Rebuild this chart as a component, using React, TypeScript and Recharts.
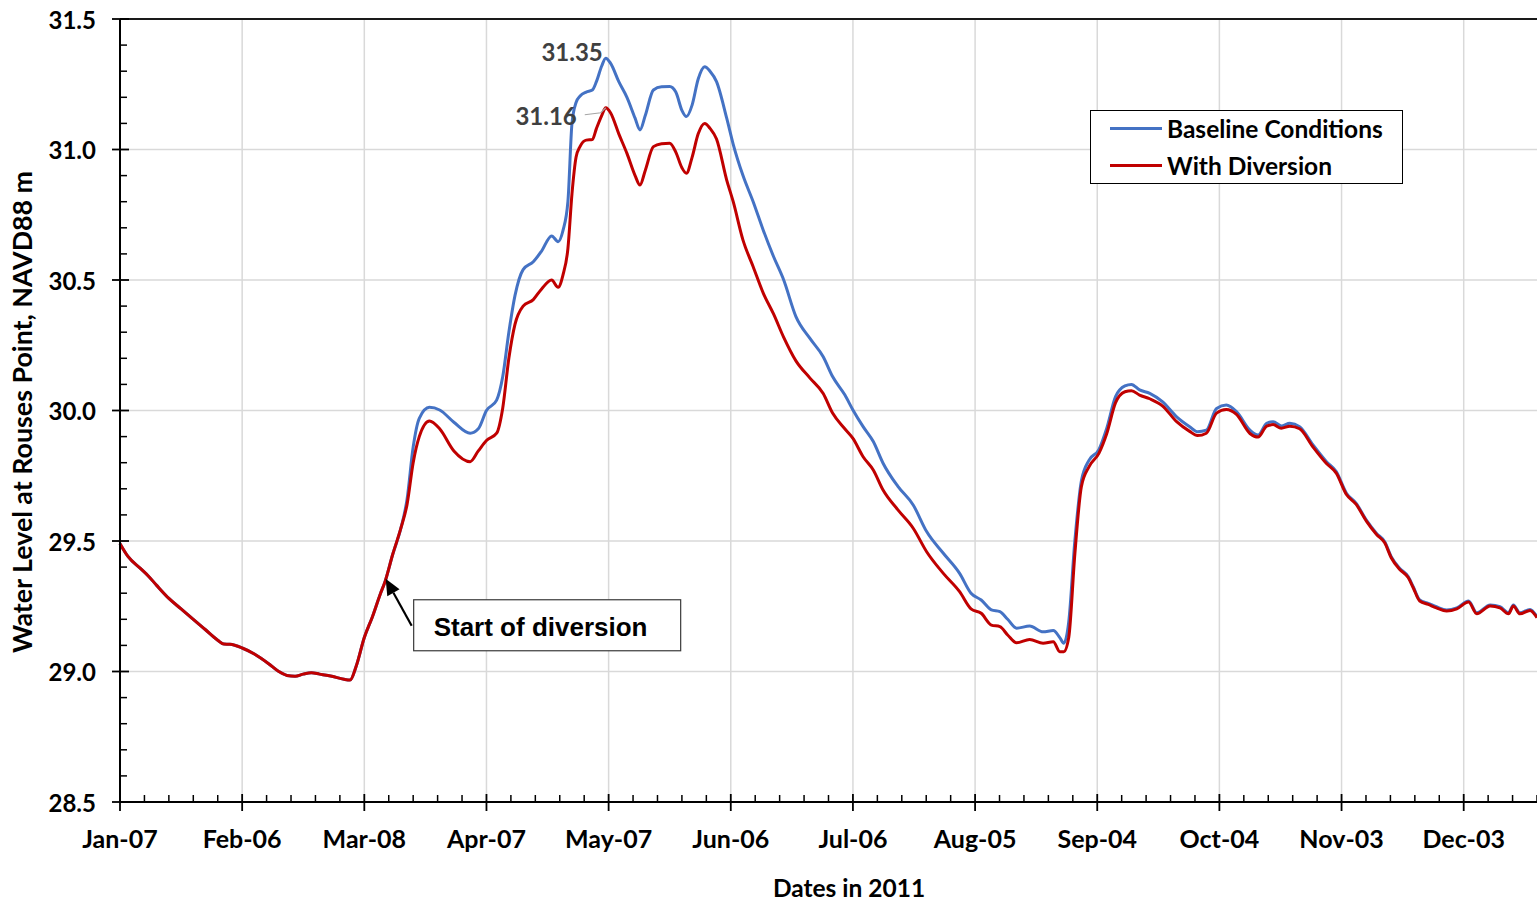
import React from "react";
import {
  LineChart,
  Line,
  XAxis,
  YAxis,
  CartesianGrid,
  ReferenceLine,
  ReferenceDot,
  Legend,
} from "recharts";

// days after Jan-07, 2011
const DAYS = [
  0, 2, 5, 7, 9, 12, 15, 18, 21, 24,
  25.5, 27, 30, 33, 36.5, 39, 41, 43, 45, 47,
  49, 52, 55, 56.5, 58, 60, 62, 64, 65, 67,
  69, 70.5, 72, 73.5, 76, 78.5, 82, 86, 88, 90,
  92.5, 94, 95.5, 97, 99, 101.5, 103.5, 106, 107.6, 108.8,
  110, 111, 112, 113, 114.5, 116, 117, 118.3, 119.3, 120.5,
  122.5, 124.5, 126.5, 127.7, 129, 131, 133, 135, 136.5, 138,
  139.1, 140.5, 142, 143.6, 144.9, 146.5, 149, 150.6, 153, 155.5,
  158, 160.5, 163, 166, 169.4, 172.7, 175, 178, 180, 182.5,
  185, 187.4, 191, 194.8, 198.1, 202.2, 206.2, 209, 211.5, 214,
  216.1, 218, 220.2, 223.4, 226.7, 229.2, 230.8, 231.8, 233, 234.5,
  236.1, 238, 240.4, 242.3, 244.5, 246.8, 248.4, 250.4, 252.9, 256,
  259.5, 262.7, 264.6, 266.8, 269.3, 271.7, 274.2, 277.5, 279.5, 281.6,
  283.2, 285.2, 287.3, 289.7, 293, 296.3, 298.7, 301.2, 303.6, 306.1,
  308.6, 310.6, 312.2, 314.3, 316.4, 317.6, 319.2, 321.3, 323.3, 325.8,
  328.3, 331.2, 333.2, 336.5, 338.9, 341, 342.2, 343.8, 346.3, 348,
];

const BASELINE = [
  29.49, 29.44, 29.395, 29.365, 29.33, 29.28, 29.24, 29.2, 29.16, 29.12,
  29.105, 29.104, 29.09, 29.067, 29.03, 29.0, 28.985, 28.982, 28.99, 28.995,
  28.99, 28.982, 28.97, 28.967, 29.02, 29.13, 29.21, 29.3, 29.34, 29.45,
  29.55, 29.66, 29.86, 29.97, 30.012, 30.002, 29.955, 29.913, 29.93, 30.0,
  30.04, 30.13, 30.3, 30.44, 30.54, 30.57, 30.61, 30.669, 30.647, 30.69,
  30.8, 31.1, 31.18, 31.205, 31.22, 31.228, 31.26, 31.32, 31.35, 31.33,
  31.26, 31.2, 31.12, 31.075, 31.13, 31.228, 31.24, 31.241, 31.22, 31.15,
  31.126, 31.17, 31.27, 31.317, 31.3, 31.26, 31.12, 31.02, 30.9, 30.8,
  30.69, 30.59, 30.5, 30.36, 30.277, 30.206, 30.13, 30.06, 30.002, 29.938,
  29.881, 29.798, 29.71, 29.638, 29.536, 29.453, 29.376, 29.3, 29.274, 29.236,
  29.229, 29.2, 29.166, 29.174, 29.152, 29.157, 29.13, 29.108, 29.19, 29.5,
  29.73, 29.81, 29.85, 29.93, 30.053, 30.094, 30.1, 30.079, 30.066, 30.034,
  29.976, 29.938, 29.919, 29.925, 30.008, 30.021, 29.996, 29.925, 29.906, 29.951,
  29.957, 29.941, 29.951, 29.938, 29.868, 29.804, 29.766, 29.683, 29.644, 29.58,
  29.529, 29.497, 29.44, 29.395, 29.363, 29.325, 29.274, 29.261, 29.248, 29.236,
  29.244, 29.27, 29.225, 29.255, 29.248, 29.225, 29.255, 29.225, 29.238, 29.21,
];

const DIVERSION = [
  29.49, 29.44, 29.395, 29.365, 29.33, 29.28, 29.24, 29.2, 29.16, 29.12,
  29.105, 29.104, 29.09, 29.067, 29.03, 29.0, 28.985, 28.982, 28.99, 28.995,
  28.99, 28.982, 28.97, 28.967, 29.02, 29.13, 29.21, 29.3, 29.34, 29.45,
  29.55, 29.64, 29.8, 29.9, 29.96, 29.93, 29.845, 29.804, 29.845, 29.885,
  29.913, 30.01, 30.2, 30.33, 30.4, 30.425, 30.465, 30.5, 30.472, 30.52,
  30.62, 30.83, 30.97, 31.012, 31.036, 31.038, 31.08, 31.13, 31.16, 31.14,
  31.06, 30.985, 30.9, 30.864, 30.92, 31.011, 31.022, 31.024, 30.99, 30.93,
  30.909, 30.97, 31.06, 31.1, 31.081, 31.04, 30.883, 30.8, 30.653, 30.551,
  30.449, 30.37, 30.28, 30.19, 30.125, 30.065, 29.99, 29.93, 29.893, 29.823,
  29.772, 29.695, 29.62, 29.549, 29.459, 29.376, 29.306, 29.24, 29.223, 29.178,
  29.172, 29.14, 29.11, 29.123, 29.108, 29.114, 29.076, 29.076, 29.13, 29.45,
  29.708, 29.785, 29.836, 29.91, 30.03, 30.072, 30.076, 30.059, 30.045, 30.018,
  29.957, 29.92, 29.904, 29.913, 29.99, 30.004, 29.985, 29.912, 29.898, 29.94,
  29.946, 29.932, 29.94, 29.93, 29.86, 29.797, 29.76, 29.678, 29.64, 29.576,
  29.525, 29.493, 29.436, 29.391, 29.359, 29.321, 29.27, 29.257, 29.244, 29.232,
  29.24, 29.266, 29.221, 29.251, 29.244, 29.221, 29.251, 29.221, 29.234, 29.206,
];

const MAJOR_DAYS = [0, 30, 60, 90, 120, 150, 180, 210, 240, 270, 300, 330];
const DATE_LABELS = [
  "Jan-07", "Feb-06", "Mar-08", "Apr-07", "May-07", "Jun-06",
  "Jul-06", "Aug-05", "Sep-04", "Oct-04", "Nov-03", "Dec-03",
];
const MAJOR_LEVELS = [28.5, 29.0, 29.5, 30.0, 30.5, 31.0, 31.5];

// minor ticks: every 6 days on x, every 0.1 m on y
const X_TICKS = Array.from({ length: 59 }, (_, i) => i * 6);
const Y_TICKS = Array.from({ length: 31 }, (_, i) => Math.round((28.5 + i * 0.1) * 10) / 10);

const START_DAY = 65;

const FONT = "Lato, 'Open Sans', sans-serif";

const data = DAYS.map((day, i) => ({
  day,
  baseline: BASELINE[i],
  diversion: DIVERSION[i],
}));

const peakIdx = BASELINE.indexOf(Math.max(...BASELINE));
const peakDivIdx = DIVERSION.indexOf(Math.max(...DIVERSION));
const startIdx = DAYS.indexOf(START_DAY);

function DateTick(props: any) {
  const { x, y, payload } = props;
  const idx = MAJOR_DAYS.indexOf(payload.value);
  if (idx < 0) {
    return <line x1={x} x2={x} y1={y} y2={y - 7} stroke="#000" strokeWidth={1.5} />;
  }
  return (
    <g>
      <line x1={x} x2={x} y1={y - 8} y2={y + 9} stroke="#000" strokeWidth={1.8} />
      <text
        x={x}
        y={y + 36}
        textAnchor="middle"
        dominantBaseline="central"
        fontFamily={FONT}
        fontWeight={700}
        fontSize={25}
        fill="#000"
      >
        {DATE_LABELS[idx]}
      </text>
    </g>
  );
}

function LevelTick(props: any) {
  const { x, y, payload } = props;
  const v: number = payload.value;
  const major = Math.round(v * 10) % 5 === 0;
  if (!major) {
    return <line x1={x} x2={x + 7} y1={y} y2={y} stroke="#000" strokeWidth={1.5} />;
  }
  return (
    <g>
      <line x1={x - 8} x2={x + 9} y1={y} y2={y} stroke="#000" strokeWidth={1.8} />
      <text
        x={x - 24}
        y={y}
        textAnchor="end"
        dominantBaseline="central"
        fontFamily={FONT}
        fontWeight={700}
        fontSize={24}
        fill="#000"
      >
        {v.toFixed(1)}
      </text>
    </g>
  );
}

function YTitle() {
  return (
    <text
      x={22}
      y={412}
      transform="rotate(-90 22 412)"
      textAnchor="middle"
      dominantBaseline="central"
      fontFamily={FONT}
      fontWeight={700}
      fontSize={26.8}
      fill="#000"
    >
      Water Level at Rouses Point, NAVD88 m
    </text>
  );
}

function XTitle() {
  return (
    <text
      x={849}
      y={887}
      textAnchor="middle"
      dominantBaseline="central"
      fontFamily={FONT}
      fontWeight={700}
      fontSize={24.5}
      fill="#000"
    >
      Dates in 2011
    </text>
  );
}

function PeakLabel(props: any) {
  const { cx, cy } = props;
  return (
    <text
      x={cx - 3}
      y={cy - 7}
      textAnchor="end"
      dominantBaseline="central"
      fontFamily={FONT}
      fontWeight={700}
      fontSize={24}
      fill="#404040"
    >
      {BASELINE[peakIdx].toFixed(2)}
    </text>
  );
}

function PeakDivLabel(props: any) {
  const { cx, cy } = props;
  return (
    <g>
      <polyline
        points={`${cx - 21},${cy + 7} ${cx - 5},${cy + 5} ${cx},${cy}`}
        fill="none"
        stroke="#a6a6a6"
        strokeWidth={1.2}
      />
      <text
        x={cx - 29}
        y={cy + 8}
        textAnchor="end"
        dominantBaseline="central"
        fontFamily={FONT}
        fontWeight={700}
        fontSize={24}
        fill="#404040"
      >
        {DIVERSION[peakDivIdx].toFixed(2)}
      </text>
    </g>
  );
}

function StartCallout(props: any) {
  const { cx, cy } = props;
  const tipX = cx + 1;
  const tipY = cy - 4;
  const tailX = cx + 27;
  const tailY = cy + 43;
  const len = Math.hypot(tipX - tailX, tipY - tailY);
  const ux = (tipX - tailX) / len;
  const uy = (tipY - tailY) / len;
  const bx = tipX - ux * 16;
  const by = tipY - uy * 16;
  const px = -uy * 7;
  const py = ux * 7;
  return (
    <g>
      <line x1={tailX} y1={tailY} x2={bx} y2={by} stroke="#000" strokeWidth={2.2} />
      <polygon
        points={`${tipX},${tipY} ${bx + px},${by + py} ${bx - px},${by - py}`}
        fill="#000"
      />
      <rect x={cx + 29} y={cy + 17} width={267} height={51} fill="#fff" stroke="#3a3a3a" strokeWidth={1.2} />
      <text
        x={cx + 49}
        y={cy + 44}
        dominantBaseline="central"
        fontFamily="'Liberation Sans', Arial, sans-serif"
        fontWeight={700}
        fontSize={26}
        fill="#000"
      >
        Start of diversion
      </text>
    </g>
  );
}

function LegendBox(props: any) {
  const items = props.payload || [];
  return (
    <div
      style={{
        position: "relative",
        width: 313,
        height: 74,
        boxSizing: "border-box",
        border: "1.5px solid #000",
        background: "#fff",
        fontFamily: FONT,
        fontWeight: 700,
        fontSize: 24.5,
        color: "#000",
      }}
    >
      {items.map((item: any, i: number) => (
        <div
          key={item.value}
          style={{
            position: "absolute",
            left: 0,
            top: i === 0 ? 2 : 39,
            height: 30,
            display: "flex",
            alignItems: "center",
            whiteSpace: "nowrap",
          }}
        >
          <span
            style={{
              display: "inline-block",
              marginLeft: 19,
              width: 52,
              height: 3,
              background: item.color,
            }}
          />
          <span style={{ marginLeft: 5 }}>{item.value}</span>
        </div>
      ))}
    </div>
  );
}

export default function App() {
  return (
    <div style={{ position: "absolute", left: 0, top: 0, width: 1537, height: 901, background: "#fff" }}>
      <LineChart
        width={1537}
        height={901}
        data={data}
        margin={{ top: 19, right: 0, bottom: 0, left: 0 }}
      >
        <CartesianGrid
          stroke="#d9d9d9"
          strokeWidth={1.5}
          horizontalValues={MAJOR_LEVELS}
          verticalValues={MAJOR_DAYS}
        />
        <XAxis
          dataKey="day"
          type="number"
          domain={[0, 348]}
          ticks={X_TICKS}
          interval={0}
          height={99}
          tickSize={0}
          tickMargin={0}
          tickLine={false}
          axisLine={{ stroke: "#000", strokeWidth: 2 }}
          tick={<DateTick />}
          label={<XTitle />}
        />
        <YAxis
          type="number"
          domain={[28.5, 31.5]}
          ticks={Y_TICKS}
          interval={0}
          width={120}
          tickSize={0}
          tickMargin={0}
          tickLine={false}
          axisLine={{ stroke: "#000", strokeWidth: 2 }}
          tick={<LevelTick />}
          label={<YTitle />}
        />
        <ReferenceLine y={31.5} stroke="#1a1a1a" strokeWidth={2} />
        <Legend
          layout="vertical"
          align="center"
          verticalAlign="middle"
          content={<LegendBox />}
          wrapperStyle={{ left: 1090, top: 110, width: 313 }}
        />
        <Line
          dataKey="baseline"
          name="Baseline Conditions"
          type="monotone"
          stroke="#4472C4"
          strokeWidth={3}
          dot={false}
          activeDot={false}
          isAnimationActive={false}
        />
        <Line
          dataKey="diversion"
          name="With Diversion"
          type="monotone"
          stroke="#C00000"
          strokeWidth={3}
          dot={false}
          activeDot={false}
          isAnimationActive={false}
        />
        <ReferenceDot x={DAYS[peakIdx]} y={BASELINE[peakIdx]} shape={<PeakLabel />} />
        <ReferenceDot x={DAYS[peakDivIdx]} y={DIVERSION[peakDivIdx]} shape={<PeakDivLabel />} />
        <ReferenceDot x={DAYS[startIdx]} y={DIVERSION[startIdx]} shape={<StartCallout />} />
      </LineChart>
    </div>
  );
}
